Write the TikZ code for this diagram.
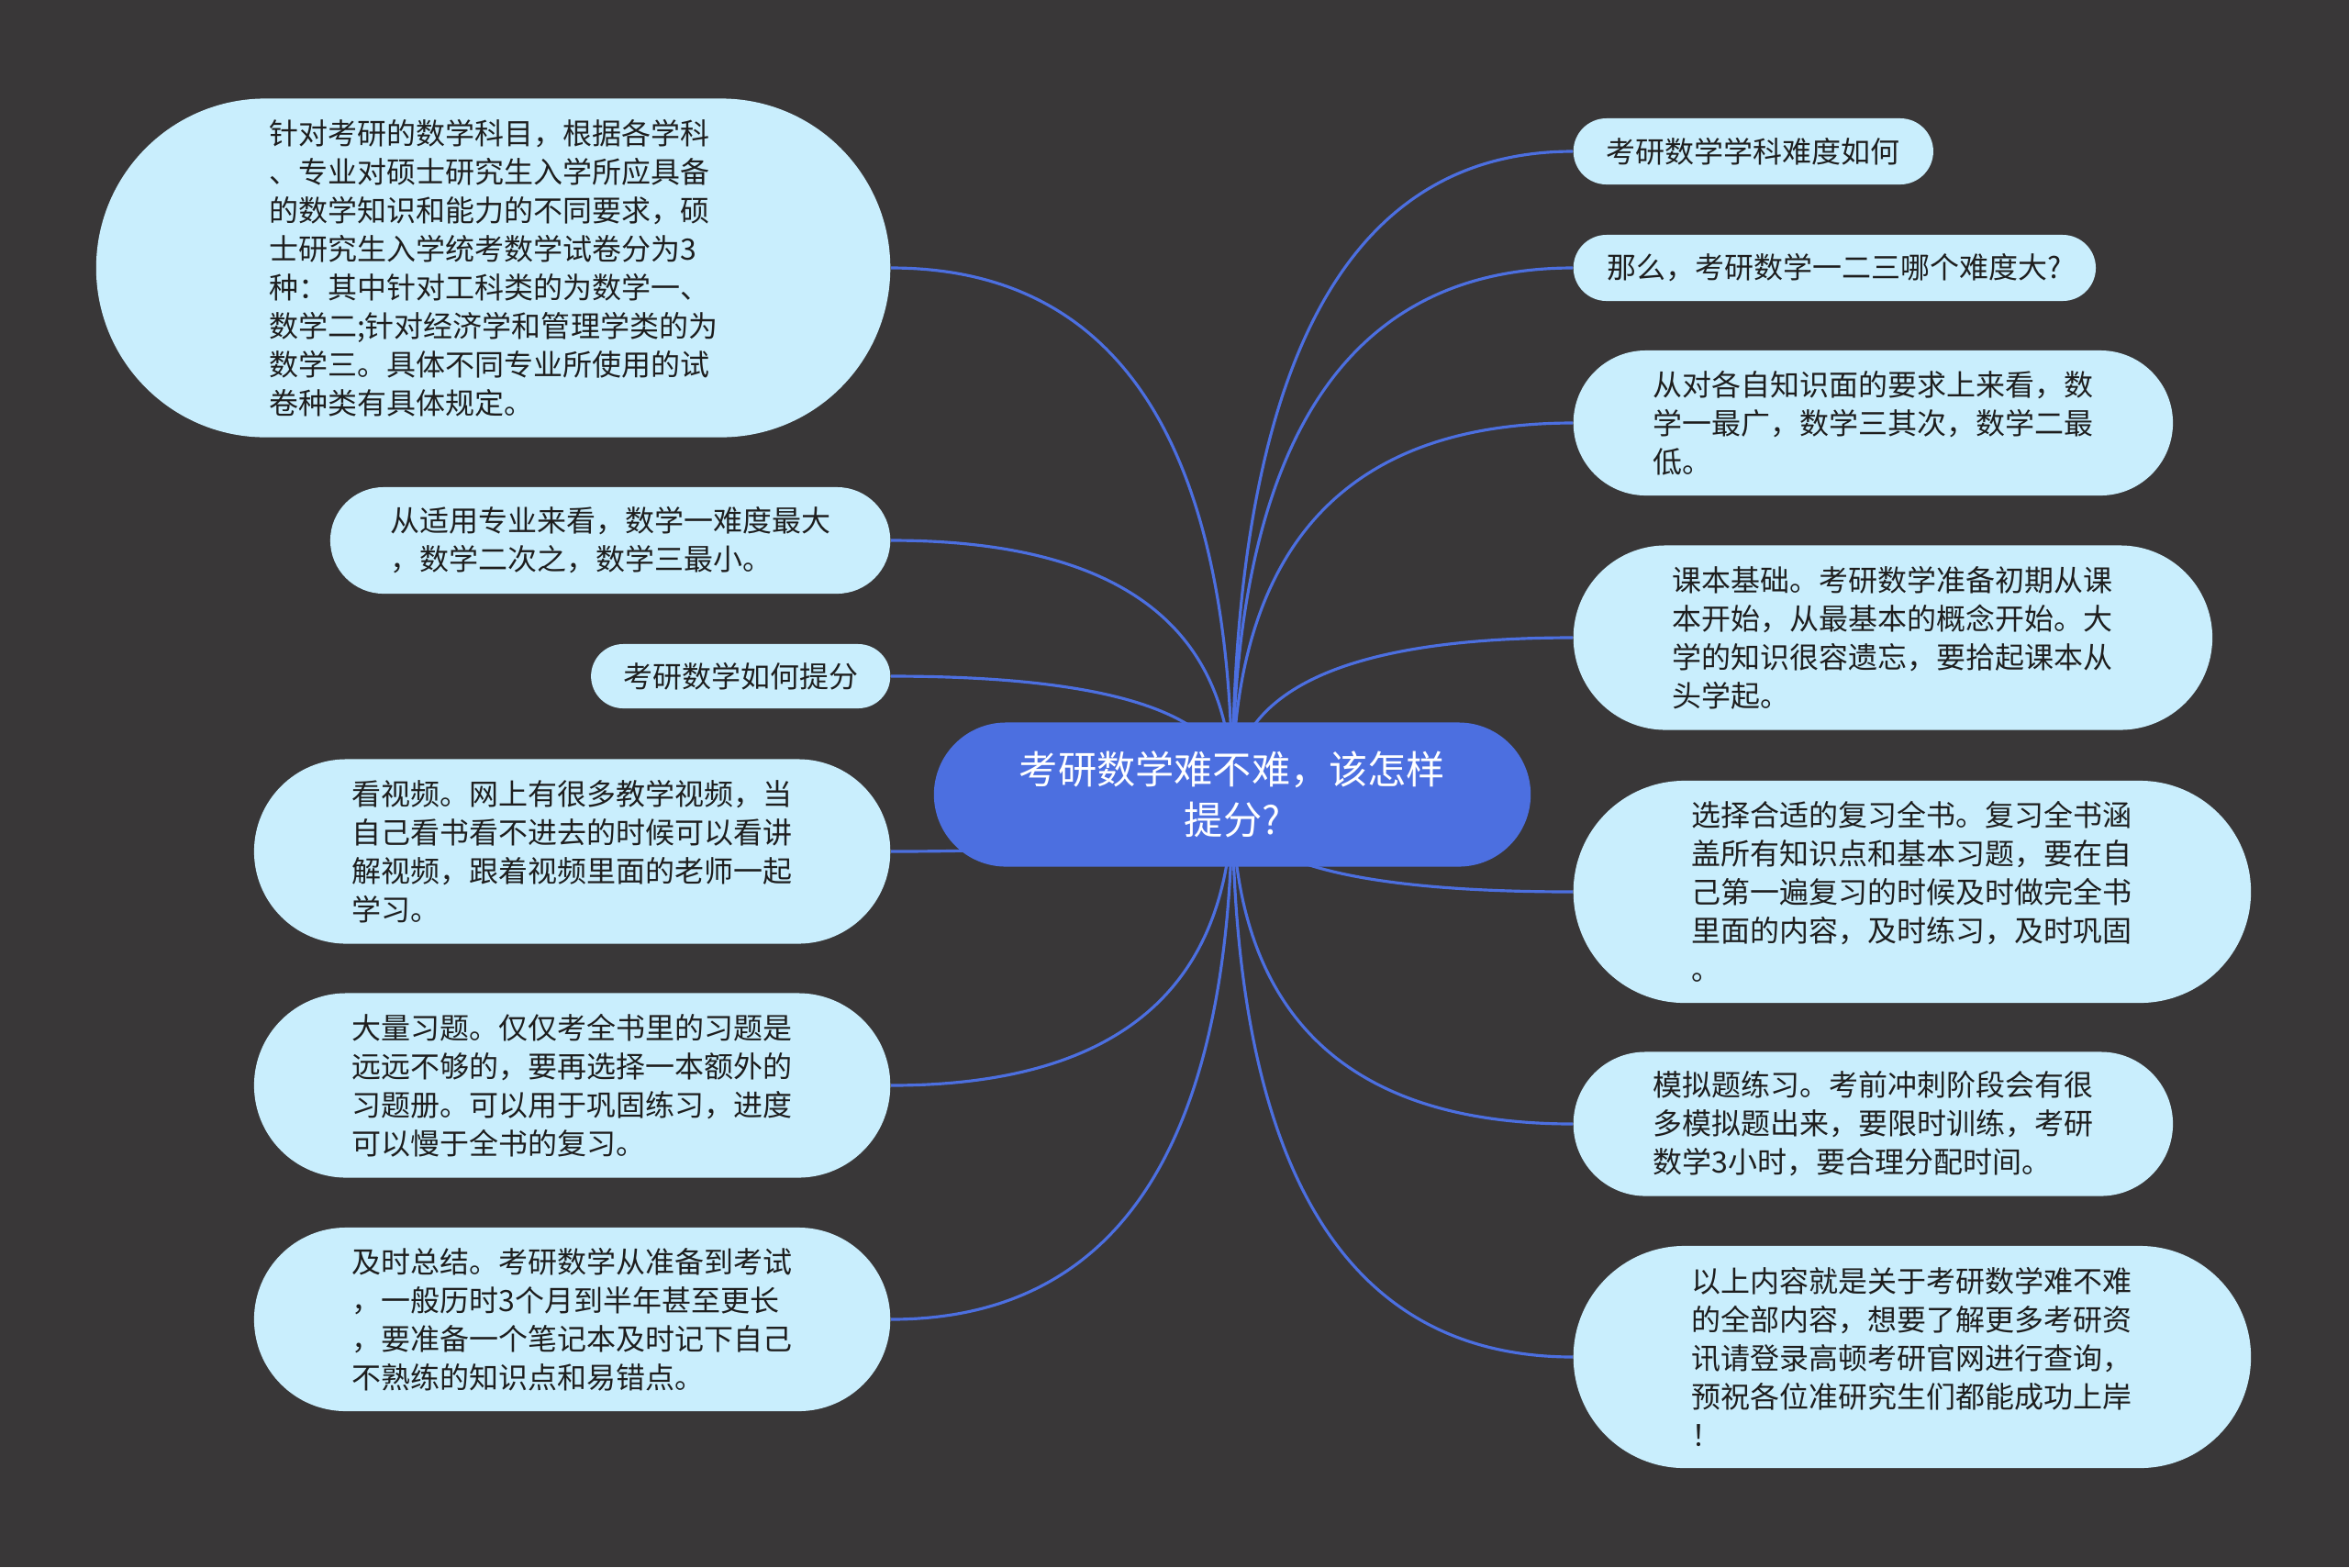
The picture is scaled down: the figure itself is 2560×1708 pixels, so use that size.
\documentclass[tikz,border=0pt]{standalone}
\usepackage{fontspec}
\setmainfont{Noto Sans CJK SC}
\usetikzlibrary{calc,backgrounds}
\definecolor{bgdark}{RGB}{57,55,56}
\definecolor{mainblue}{RGB}{76,111,224}
\definecolor{leafcyan}{RGB}{201,238,253}
\definecolor{textdark}{RGB}{30,30,30}
\tikzset{
  mainbox/.style={fill=mainblue, text=white, align=center, inner sep=0pt,
    minimum width=6.5cm, minimum height=1.57cm, rounded corners=0.785cm,
    font=\fontsize{12pt}{15.6pt}\selectfont},
  leafbox/.style={fill=leafcyan, text=textdark, align=left, inner sep=0pt,
    font=\fontsize{9.1pt}{11.95pt}\selectfont},
  pill/.style 2 args={minimum width=#1cm, minimum height=2*#2cm, rounded corners=#2cm},
  branch/.style={draw=mainblue, line width=0.9pt}
}
\begin{document}
\begin{tikzpicture}[x=0.01cm, y=-0.01cm]
        \useasboundingbox (0,0) rectangle (2560,1708);
        % centre
        \node[mainbox] (main) at (1343,866) {考研数学难不难，该怎样\\提分?};
        % left side
        \node[leafbox, pill={8.65}{1.845}, anchor=east] (l1) at (971,292) {针对考研的数学科目，根据各学科\\、专业对硕士研究生入学所应具备\\的数学知识和能力的不同要求，硕\\士研究生入学统考数学试卷分为3\\种：其中针对工科类的为数学一、\\数学二;针对经济学和管理学类的为\\数学三。具体不同专业所使用的试\\卷种类有具体规定。};
        \node[leafbox, pill={6.10}{0.58}, anchor=east] (l2) at (971,589) {从适用专业来看，数学一难度最大\\，数学二次之，数学三最小。};
        \node[leafbox, pill={3.26}{0.35}, anchor=east] (l3) at (971,737) {考研数学如何提分};
        \node[leafbox, pill={6.93}{1.005}, anchor=east] (l4) at (971,928) {看视频。网上有很多教学视频，当\\自己看书看不进去的时候可以看讲\\解视频，跟着视频里面的老师一起\\学习。};
        \node[leafbox, pill={6.93}{1.005}, anchor=east] (l5) at (971,1183) {大量习题。仅仅考全书里的习题是\\远远不够的，要再选择一本额外的\\习题册。可以用于巩固练习，进度\\可以慢于全书的复习。};
        \node[leafbox, pill={6.93}{1.0}, anchor=east] (l6) at (971,1438) {及时总结。考研数学从准备到考试\\，一般历时3个月到半年甚至更长\\，要准备一个笔记本及时记下自己\\不熟练的知识点和易错点。};
        % right side
        \node[leafbox, pill={3.92}{0.36}, anchor=west] (r1) at (1714,165) {考研数学学科难度如何};
        \node[leafbox, pill={5.69}{0.36}, anchor=west] (r2) at (1714,292) {那么，考研数学一二三哪个难度大?};
        \node[leafbox, pill={6.53}{0.79}, anchor=west] (r3) at (1714,461) {从对各自知识面的要求上来看，数\\学一最广，数学三其次，数学二最\\低。};
        \node[leafbox, pill={6.96}{1.005}, anchor=west] (r4) at (1714,695) {课本基础。考研数学准备初期从课\\本开始，从最基本的概念开始。大\\学的知识很容遗忘，要拾起课本从\\头学起。};
        \node[leafbox, pill={7.38}{1.21}, anchor=west] (r5) at (1714,972) {选择合适的复习全书。复习全书涵\\盖所有知识点和基本习题，要在自\\己第一遍复习的时候及时做完全书\\里面的内容，及时练习，及时巩固\\。};
        \node[leafbox, pill={6.53}{0.785}, anchor=west] (r6) at (1714,1225) {模拟题练习。考前冲刺阶段会有很\\多模拟题出来，要限时训练，考研\\数学3小时，要合理分配时间。};
        \node[leafbox, pill={7.38}{1.21}, anchor=west] (r7) at (1714,1479) {以上内容就是关于考研数学难不难\\的全部内容，想要了解更多考研资\\讯请登录高顿考研官网进行查询，\\预祝各位准研究生们都能成功上岸\\！};
        % background and branches
        \begin{scope}[on background layer]
            \fill[bgdark] (0,0) rectangle (2560,1708);
            \foreach \n/\a in {l1/east,l2/east,l3/east,l4/east,l5/east,l6/east,r1/west,r2/west,r3/west,r4/west,r5/west,r6/west,r7/west}
                \draw[branch] (main.center) .. controls ($(main.center)!2/3!(main.center |- \n.\a)$) and ($(\n.\a)!2/3!(main.center |- \n.\a)$) .. (\n.\a);
        \end{scope}
    \end{tikzpicture}
\end{document}
